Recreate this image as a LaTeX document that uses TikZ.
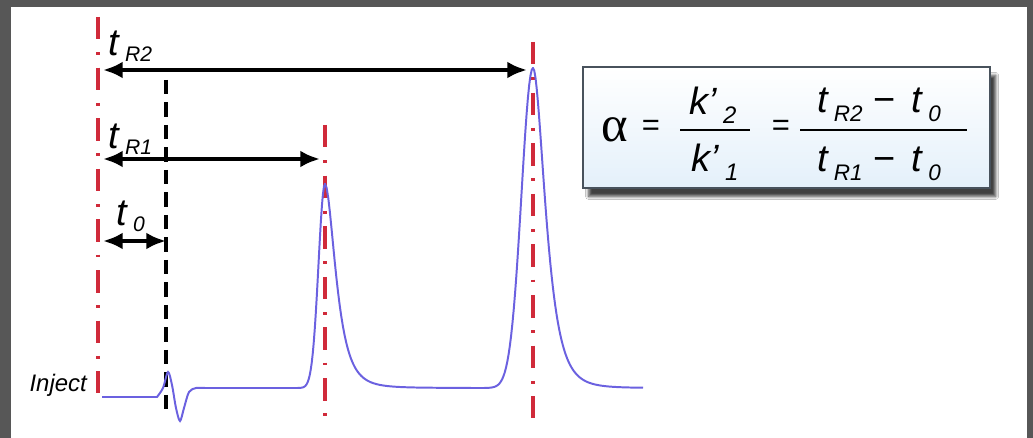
\documentclass[tikz,border=0pt]{standalone}
\usepackage{fontspec}
\setmainfont{Liberation Sans}
\newfontfamily\greekfont{Liberation Serif}
\usetikzlibrary{arrows.meta,shadows.blur}

\definecolor{slidegray}{HTML}{575757}
\definecolor{markred}{HTML}{D02A3A}
\definecolor{traceblue}{rgb}{0.42,0.38,0.88}
\definecolor{boxedge}{HTML}{48525C}
\definecolor{boxtint}{RGB}{228,240,250}

\newcommand{\sublbl}[3][4pt]{\hspace{4.5pt}\raisebox{-#1}{\fontsize{#2}{#2}\selectfont\itshape #3}}

\tikzset{
  marker/.style={markred, line width=3pt, dash pattern=on 16pt off 9pt on 2pt off 9pt},
  deadline/.style={black, line width=2.6pt, dash pattern=on 10pt off 6pt},
  timearrow/.style={black, line width=3pt, {Latex[length=14pt,width=12pt]}-{Latex[length=14pt,width=12pt]}},
  trace/.style={traceblue, line width=1.4pt},
  tlabel/.style={anchor=base west, inner sep=0pt, font=\fontsize{27}{30}\selectfont\itshape},
  eqtext/.style={anchor=base, inner sep=0pt, font=\fontsize{27}{30}\selectfont\itshape},
  fracbar/.style={black, line width=1.8pt},
}

\begin{document}
\begin{tikzpicture}[x=0.025cm, y=-0.025cm]
  \useasboundingbox (0,0) rectangle (1033,438);
  \fill[slidegray] (0,0) rectangle (1033,438);
  \fill[white] (11,7) rectangle (1027,438);

  % marker lines
  \coordinate (inj top) at (98,17);
  \coordinate (inj bot) at (98,393);
  \coordinate (t0 top) at (166,80);
  \coordinate (t0 bot) at (166,413);
  \coordinate (r1 top) at (325,125);
  \coordinate (r1 bot) at (325,420);
  \coordinate (r2 top) at (533,42);
  \coordinate (r2 bot) at (533,418);
  \draw[marker] (inj top) -- (inj bot);
  \draw[marker] (r1 top) -- (r1 bot);
  \draw[marker] (r2 top) -- (r2 bot);
  \draw[deadline] (t0 top) -- (t0 bot);

  % chromatogram
  \draw[trace] (102,397) -- (155,397)
    -- plot[smooth] coordinates {(157,397) (163,388) (168,372) (172,385) (176,408) (180,421) (184,408) (189,392) (196,388) (205,388)}
    -- (285,388)
    -- plot[domain=285:325, samples=40] (\x,{388-204*exp(-0.5*((\x-325)/6.5)^2)})
    -- plot[domain=325:470, samples=90] (\x,{388-204*exp(-0.5*((\x-325)/(8+0.2*(\x-325)))^2)})
    -- plot[domain=470:533, samples=50] (\x,{388-320*exp(-0.5*((\x-533)/11.5)^2)})
    -- plot[domain=533:643, samples=90] (\x,{388-320*exp(-0.5*((\x-533)/(9.5+0.18*(\x-533)))^2)});

  % retention times
  \coordinate (r2 left) at (103,70);
  \coordinate (r2 right) at (527,70);
  \coordinate (r1 left) at (103,159);
  \coordinate (r1 right) at (320,159);
  \coordinate (t0 left) at (103,241);
  \coordinate (t0 right) at (166,241);
  \draw[timearrow] (r2 left) -- (r2 right);
  \draw[timearrow] (r1 left) -- (r1 right);
  \draw[timearrow] (t0 left) -- (t0 right);

  \node[tlabel] (lblR2) at (108,56) {t\sublbl{15}{R2}};
  \node[tlabel] (lblR1) at (108,149) {t\sublbl{15}{R1}};
  \node[tlabel] (lbl0) at (116,226) {t\sublbl{15}{0}};
  \node[anchor=base east, inner sep=0pt, font=\fontsize{17}{19}\selectfont\itshape] (inject) at (87,392) {Inject};

  % selectivity formula
  \node[draw=boxedge, line width=1.6pt, top color=white, bottom color=boxtint,
        blur shadow={shadow xshift=4pt, shadow yshift=-6pt, shadow blur steps=6, shadow opacity=75},
        minimum width=10.175cm, minimum height=3.025cm] (formbox) at (786.5,127.5) {};
  \node[anchor=base, inner sep=0pt, font=\greekfont\fontsize{36}{38}\selectfont] (alpha) at (615,142) {α};
  \node[inner sep=0pt, font=\fontsize{22}{24}\selectfont] (eq1) at (651,128) {=};
  \node[eqtext] (kTwo) at (713,115) {k’\sublbl[6pt]{17}{2}};
  \node[eqtext] (kOne) at (715,172) {k’\sublbl[6pt]{17}{1}};
  \coordinate (bar1 left) at (680,130);
  \coordinate (bar1 right) at (750,130);
  \draw[fracbar] (bar1 left) -- (bar1 right);
  \node[inner sep=0pt, font=\fontsize{22}{24}\selectfont] (eq2) at (781,128) {=};
  \node[eqtext] (numer) at (879,113) {t\sublbl[6pt]{16}{R2}\hspace{8pt}\textup{−}\hspace{11pt}t\sublbl[6pt]{16}{0}};
  \node[eqtext] (denom) at (879,172) {t\sublbl[6pt]{16}{R1}\hspace{8pt}\textup{−}\hspace{11pt}t\sublbl[6pt]{16}{0}};
  \coordinate (bar2 left) at (800,130);
  \coordinate (bar2 right) at (967,130);
  \draw[fracbar] (bar2 left) -- (bar2 right);
\end{tikzpicture}
\end{document}
